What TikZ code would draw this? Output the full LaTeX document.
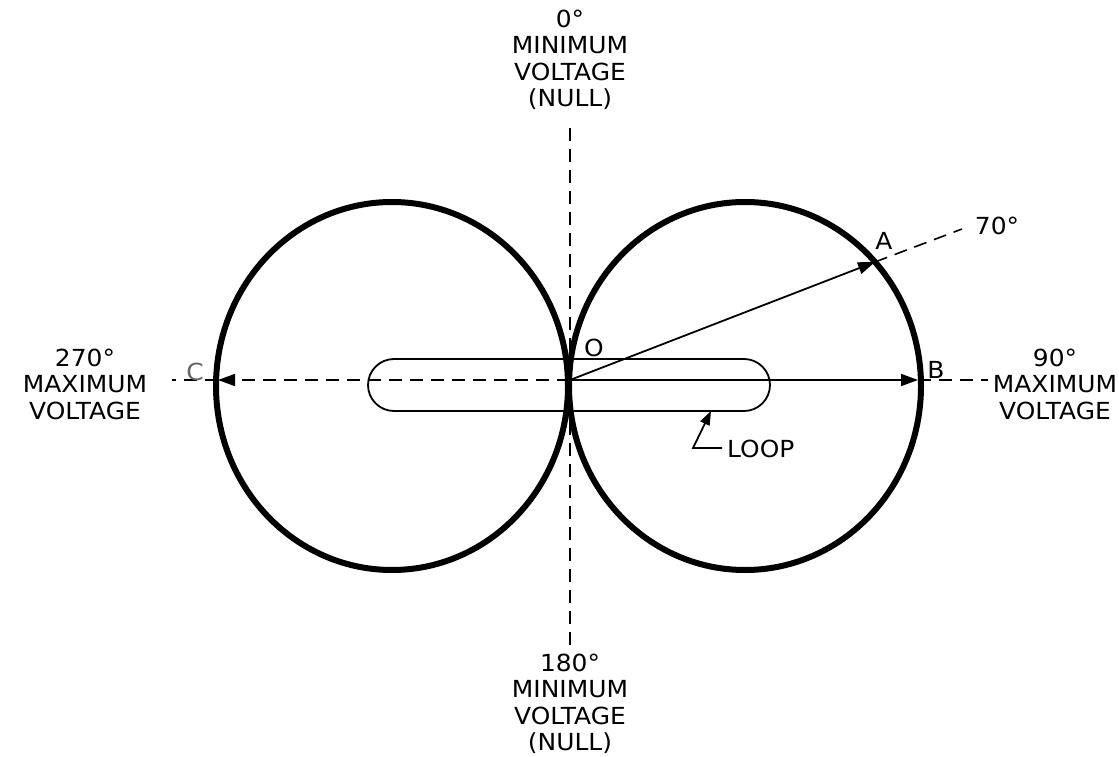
\documentclass[tikz,border=0pt]{standalone}
\usepackage{fontspec}
\setmainfont{DejaVu Sans}[FakeStretch=1.06]
\usetikzlibrary{arrows.meta,shapes.geometric}
\begin{document}
\begin{tikzpicture}[x=1pt,y=-1pt,
  lbl/.style={font=\fontsize{23.5}{26.5}\selectfont, align=center, inner sep=0pt},
  lobe/.style={draw, line width=6pt, ellipse, minimum width=352, minimum height=368, inner sep=0pt},
  axis/.style={line width=1.6pt, dash pattern=on 13pt off 8pt},
  tip/.style={-{Triangle[length=17pt,width=12pt]}},
  vec/.style={line width=1.8pt, tip},
  thin/.style={line width=1.8pt}]
\useasboundingbox (0,0) rectangle (1119,757);
\fill[white] (0,0) rectangle (1119,757);
% lobes
\node[lobe] (R) at (745,386) {};
\node[lobe] (L) at (392,386) {};
% loop
\node[draw, thin, rectangle, rounded corners=26pt, minimum width=402, minimum height=52, inner sep=0pt] (loop) at (569,385) {};
% points
\coordinate (O) at (570,380);
\coordinate (A) at (875,262);
\coordinate (B) at (918,380);
\coordinate (C) at (218,380);
\coordinate (Aend) at (962,229);
\coordinate (Bend) at (988,380);
\coordinate (Cend) at (172,380);
\coordinate (Vtop) at (570,128);
\coordinate (Vbot) at (570,645);
% axes
\draw[axis] (Vtop) -- (Vbot);
\draw[axis] (A) -- (Aend);
\draw[axis] (B) -- (Bend);
\draw[axis] (C) -- (Cend);
\draw[axis, tip] (O) -- (C);
\draw[vec] (O) -- (A);
\draw[vec] (O) -- (B);
% loop leader
\coordinate (lp1) at (722,448);
\coordinate (lp2) at (693,448);
\coordinate (lp3) at (711,411);
\draw[thin, -{Triangle[length=14pt,width=10pt]}] (lp1) -- (lp2) -- (lp3);
% labels
\node[lbl] (top) at (570,60) {0°\\MINIMUM\\VOLTAGE\\(NULL)};
\node[lbl] (bot) at (570,704) {180°\\MINIMUM\\VOLTAGE\\(NULL)};
\node[lbl] (left) at (85,384) {270°\\MAXIMUM\\VOLTAGE};
\node[lbl] (right) at (1055,384) {90°\\MAXIMUM\\VOLTAGE};
\node[lbl] (lA) at (884,241) {A};
\node[lbl] (lB) at (936,370) {B};
\node[lbl] (lC) at (195,372) {\textcolor{black!60}{C}};
\node[lbl] (lO) at (594,348) {O};
\node[lbl] (l70) at (997,226) {70°};
\node[lbl, anchor=west] (lloop) at (727,449) {LOOP};
\end{tikzpicture}
\end{document}
